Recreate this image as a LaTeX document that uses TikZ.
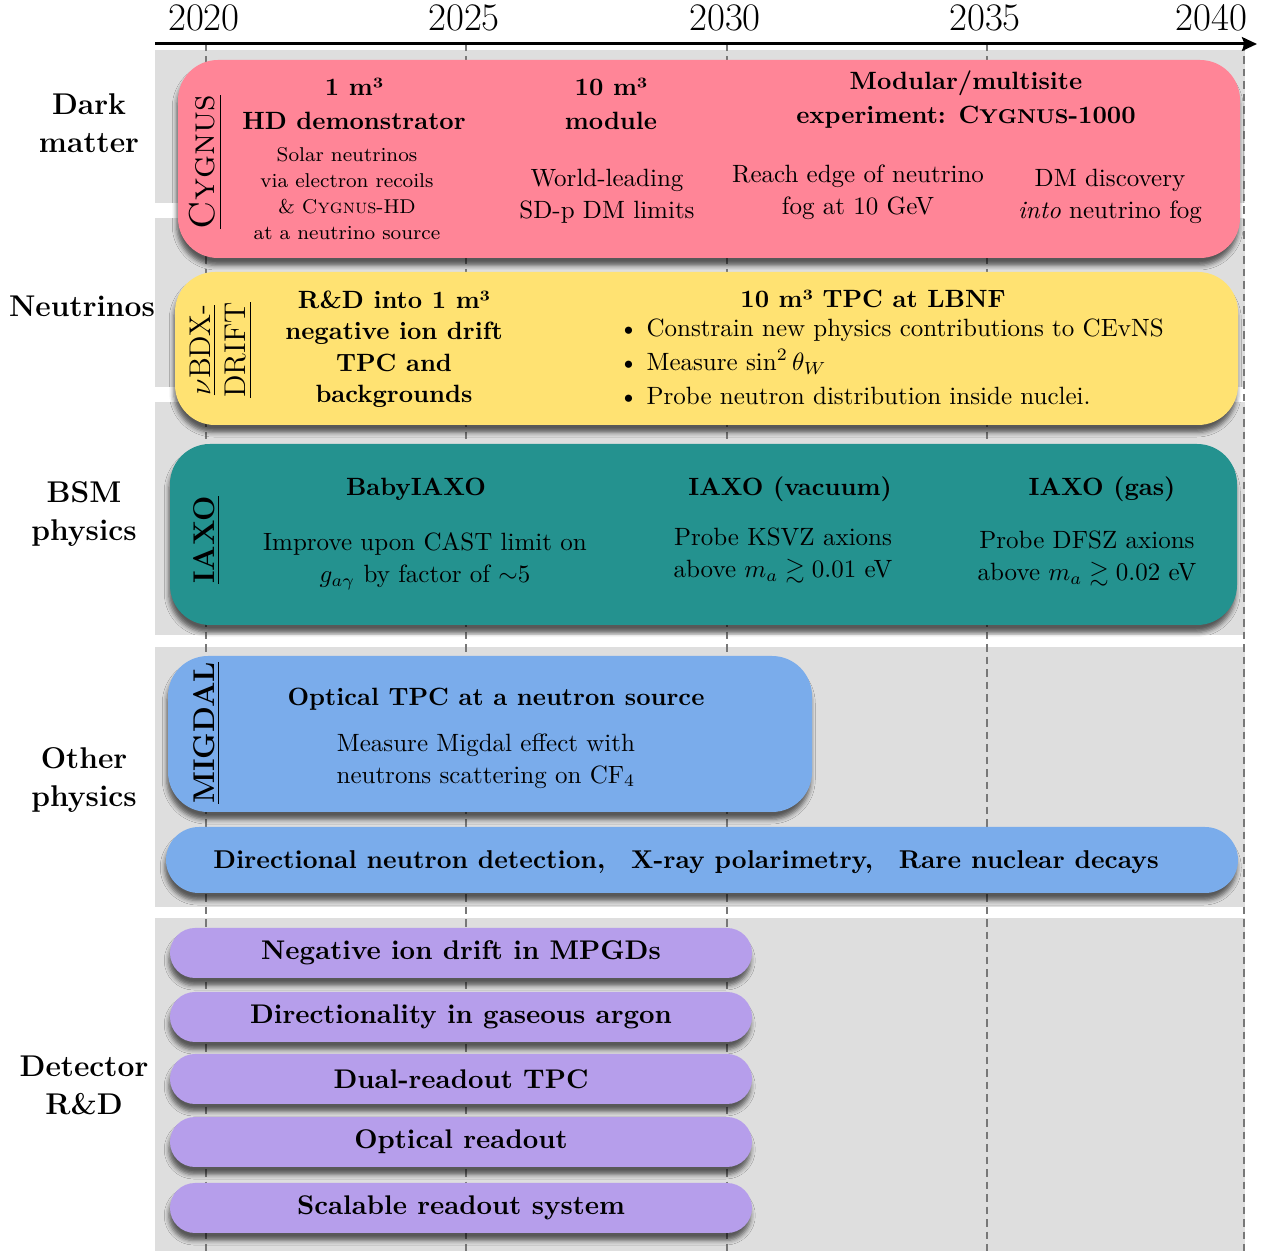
\documentclass[tikz,border=0pt]{standalone}
\usepackage{amsmath}
\usepackage{amssymb}
\usepackage{xcolor}
\usepackage{tikz}
\usetikzlibrary{positioning, arrows.meta, shadows.blur}

\definecolor{cygpink}{RGB}{255,133,151}
\definecolor{nuyellow}{RGB}{255,226,114}
\definecolor{iaxoteal}{RGB}{36,146,143}
\definecolor{migblue}{RGB}{122,172,235}
\definecolor{rdpurple}{RGB}{182,158,235}
\definecolor{bandgrey}{RGB}{222,222,222}
\definecolor{gridgrey}{RGB}{120,120,120}

\tikzset{
    band/.style={fill=bandgrey},
    yearline/.style={gridgrey, line width=1pt, dash pattern=on 3pt off 2pt},
    softshadow/.style={blur shadow={shadow xshift=-0.5pt, shadow yshift=-3pt, shadow blur radius=1.8pt, shadow opacity=60}},
    bigbox/.style={rounded corners=16pt, softshadow},
    rdbox/.style={fill=rdpurple, rounded corners=10pt, minimum width=232.8pt, minimum height=20pt, font=\fontsize{10.8}{13}\selectfont\bfseries, softshadow},
    title/.style={font=\bfseries, align=center},
    desc/.style={align=center},
    sidelabel/.style={font=\large\bfseries, align=center},
    vlabel/.style={rotate=90, align=center},
    yearlabel/.style={font=\fontsize{15.6}{18}\selectfont}
}

\begin{document}
\begin{tikzpicture}[x=0.4pt, y=-0.4pt]
    \useasboundingbox (0,0) rectangle (1262,1251);

    % grey bands, one per topic
    \fill[band] (155,50) rectangle (1245,203);
    \fill[band] (155,218) rectangle (1245,387);
    \fill[band] (155,402) rectangle (1245,635);
    \fill[band] (155,647) rectangle (1245,907);
    \fill[band] (155,918) rectangle (1245,1251);

    % years
    \foreach \yr/\xp in {2020/206, 2025/466, 2030/727, 2035/987, 2040/1244}
        \draw[yearline] (\xp,44) -- (\xp,1251);
    \foreach \yr/\xp in {2020/206, 2025/466, 2030/727, 2035/987}
        \node[yearlabel] (y\yr) at (\xp-2,18) {\yr};
    \node[yearlabel, anchor=east] (y2040) at (1256,18) {2040};

    \coordinate (axisstart) at (155,44);
    \coordinate (axisend) at (1257,44);
    \draw[very thick, -{Stealth[length=6pt, width=5.5pt, inset=1pt]}] (axisstart) -- (axisend);

    % topic labels
    \node[sidelabel] (dm) at (89,123) {Dark\\[1.2pt]matter};
    \node[sidelabel] (nu) at (82,306) {Neutrinos};
    \node[sidelabel] (bsm) at (84,514) {BSM\\[1.2pt]physics};
    \node[sidelabel] (other) at (84,780) {Other\\[1.2pt]physics};
    \node[sidelabel] (det) at (84,1085) {Detector\\[1.2pt]R\&D};

    % CYGNUS
    \path[fill=cygpink, bigbox] (178,60) rectangle (1240,258);
    \node[vlabel, font=\Large] (cyglabel) at (206,162) {\underline{\textsc{Cygnus}}};
    \node[title] (cygone) at (354,104) {1 m³\\[1.6pt]HD demonstrator};
    \node[desc, font=\footnotesize] (cygonetxt) at (347,194) {Solar neutrinos\\[0.9pt]via electron recoils\\[0.9pt]\& \textsc{Cygnus}-HD\\[0.9pt]at a neutrino source};
    \node[title] (cygten) at (611,104) {10 m³\\[1.6pt]module};
    \node[desc] (cygtentxt) at (607,196) {World-leading\\[0.8pt]SD-p DM limits};
    \node[title] (cygbig) at (966,100) {Modular/multisite\\[1.6pt]experiment: C{\footnotesize YGNUS}-1000};
    \node[desc] (cygfog) at (858,192) {Reach edge of neutrino\\[0.8pt]fog at 10 GeV};
    \node[desc] (cygdisc) at (1110,196) {DM discovery\\[0.8pt]\emph{into} neutrino fog};

    % nuBDX-DRIFT
    \path[fill=nuyellow, bigbox] (175,272) rectangle (1238,425);
    \node[vlabel, font=\large] (nulabel) at (221,350) {\underline{$\nu$BDX-}\\\underline{DRIFT}};
    \node[title] (nurd) at (394,349) {R\&D into 1 m³\\[0.6pt]negative ion drift\\[0.6pt]TPC and\\[0.6pt]backgrounds};
    \node[title] (nulbnf) at (873,299) {10 m³ TPC at LBNF};
    \node[desc, align=left, anchor=west] (nulist) at (610,362) {\textbullet\ Constrain new physics contributions to CEvNS\\[1.6pt]\textbullet\ Measure $\sin^2\theta_W$\\[1.6pt]\textbullet\ Probe neutron distribution inside nuclei.};

    % IAXO
    \path[fill=iaxoteal, bigbox] (170,444) rectangle (1237,625);
    \node[vlabel, font=\large\bfseries] (iaxolabel) at (207,540) {\underline{IAXO}};
    \node[title] (baby) at (416,489) {BabyIAXO};
    \node[desc] (babytxt) at (425,561) {Improve upon CAST limit on\\[0.8pt]$g_{a\gamma}$ by factor of $\sim$5};
    \node[title] (iaxovac) at (790,489) {IAXO (vacuum)};
    \node[desc] (iaxovactxt) at (783,556) {Probe KSVZ axions\\[0.8pt]above $m_a \gtrsim 0.01$ eV};
    \node[title] (iaxogas) at (1102,489) {IAXO (gas)};
    \node[desc] (iaxogastxt) at (1087,559) {Probe DFSZ axions\\[0.8pt]above $m_a \gtrsim 0.02$ eV};

    % MIGDAL
    \path[fill=migblue, bigbox] (168,656) rectangle (812,812);
    \node[vlabel, font=\large\bfseries] (miglabel) at (207,733) {\underline{MIGDAL}};
    \node[title] (migtitle) at (496,699) {Optical TPC at a neutron source};
    \node[desc] (migtxt) at (486,761) {Measure Migdal effect with\\[0.8pt]neutrons scattering on CF$_4$};

    \path[fill=migblue, rounded corners=13.2pt, softshadow] (166,827) rectangle (1238,893);
    \node[title, font=\fontsize{10.3}{12}\selectfont\bfseries] (othertxt) at (686,862) {Directional neutron detection,\quad X-ray polarimetry,\quad Rare nuclear decays};

    % detector R&D
    \foreach \yp/\txt [count=\i] in {953/Negative ion drift in MPGDs, 1017/Directionality in gaseous argon, 1079/Dual-readout TPC, 1142/Optical readout, 1208/Scalable readout system}
        \node[rdbox] (rd\i) at (461,\yp) {\txt};
\end{tikzpicture}
\end{document}
